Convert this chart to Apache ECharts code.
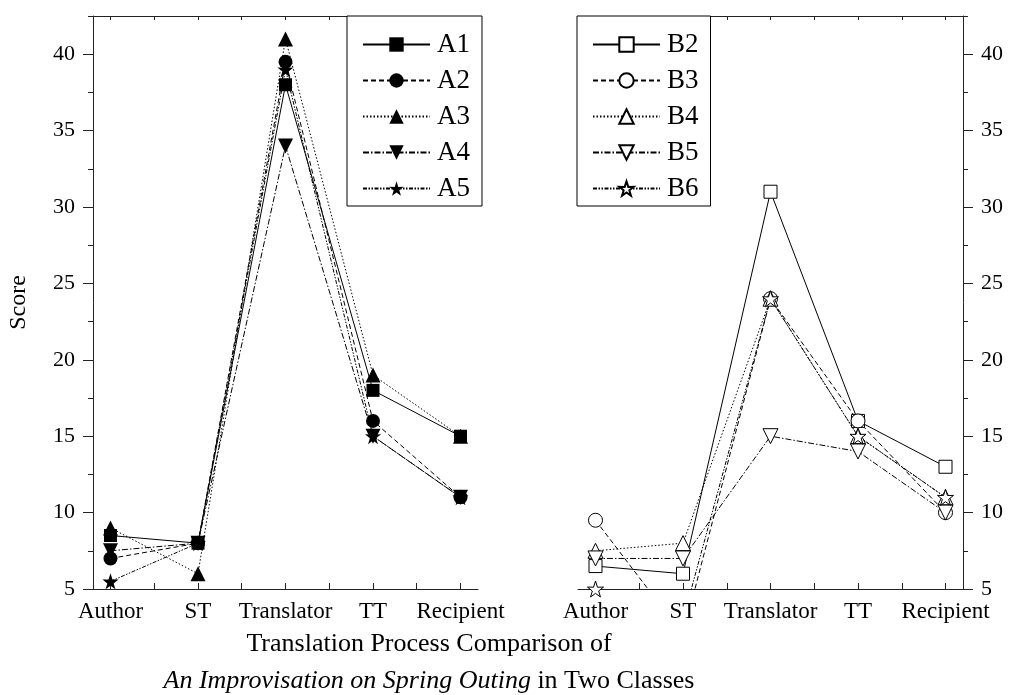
<!DOCTYPE html>
<html>
<head>
<meta charset="utf-8">
<script src="https://cdn.jsdelivr.net/npm/echarts@6/dist/echarts.min.js"></script>
<style>
html,body{margin:0;padding:0;background:#fff;}
#chart{width:1009px;height:695px;}
</style>
</head>
<body>
<div id="chart"></div>
<script>
var categories = ['Author', 'ST', 'Translator', 'TT', 'Recipient'];
var yTickLabels = [5, 10, 15, 20, 25, 30, 35, 40];
var A1 = [8.5, 8, 38, 18, 15];
var A2 = [7, 8, 39.5, 16, 11];
var A3 = [9, 6, 41, 19, 15];
var A4 = [7.5, 8, 34, 15, 11];
var A5 = [5.5, 8, 39, 15, 11];
var B2 = [6.5, 6, 31, 16, 13];
var B3 = [9.5, 2, 24, 16, 10];
var B4 = [7.5, 8, 24, 15, 11];
var B5 = [7, 7, 15, 14, 10];
var B6 = [5, 3, 24, 15, 11];

var FONT = 'Liberation Serif';
var AX = '#222';
var catPos = categories.map(function (c, i) { return i + 1; });
var tickPos = [];
for (var t = 1; t <= 5; t += 0.5) tickPos.push(t);

var STAR = 'path://M50,0L61.8,35.1L97.6,34.5L68.8,56.7L79.4,90.5L50,70L20.6,90.5L31.2,56.7L2.4,34.5L38.2,35.1Z';
var DOWN = 'path://M0,0L2,0L1,1.732Z';

function pts(arr) { return arr.map(function (v, i) { return [catPos[i], v]; }); }

function xAxes(grid) {
  return [{
    type: 'value', gridIndex: grid, position: 'bottom', min: 0.8, max: 5.2,
    splitLine: { show: false },
    axisLine: { show: true, lineStyle: { color: AX, width: 1 } },
    axisTick: { show: true, inside: true, length: 6, customValues: tickPos, lineStyle: { color: AX } },
    axisLabel: { customValues: catPos, margin: 11, color: '#000', fontFamily: FONT, fontSize: 23,
      formatter: function (v) { return categories[Math.round(v) - 1] || ''; } }
  }, {
    type: 'value', gridIndex: grid, position: 'top', min: 0.8, max: 5.2,
    splitLine: { show: false },
    axisLine: { show: true, lineStyle: { color: AX, width: 1 } },
    axisTick: { show: true, inside: true, length: 4, customValues: tickPos, lineStyle: { color: AX } },
    axisLabel: { show: false }
  }];
}
function yAxes(grid, pos, withName) {
  var a = {
    type: 'value', gridIndex: grid, position: pos, min: 5, max: 42.5, interval: 2.5,
    splitLine: { show: false },
    axisLine: { show: true, lineStyle: { color: AX, width: 1 } },
    axisTick: { show: true, inside: false, length: 5, lineStyle: { color: AX } },
    axisLabel: { customValues: yTickLabels, margin: 18, color: '#000', fontFamily: FONT, fontSize: 22 }
  };
  if (withName) {
    a.name = 'Score'; a.nameLocation = 'middle'; a.nameGap = 62;
    a.nameTextStyle = { color: '#000', fontFamily: FONT, fontSize: 24 };
  }
  var b = {
    type: 'value', gridIndex: grid, position: pos, min: 5, max: 42.5,
    splitLine: { show: false },
    axisLine: { show: false },
    axisTick: { show: true, inside: false, length: 10, customValues: yTickLabels, lineStyle: { color: AX } },
    axisLabel: { show: false }
  };
  return [a, b];
}

function ser(name, data, grid, symbol, size, dash, hollow) {
  return {
    name: name, type: 'line', xAxisIndex: grid * 2, yAxisIndex: grid * 2,
    data: pts(data), symbol: symbol, symbolSize: size, showAllSymbol: true,
    clip: true, animation: false,
    lineStyle: { color: '#000', width: 1, type: dash },
    itemStyle: hollow ? { color: '#fff', borderColor: '#000', borderWidth: 1 } : { color: '#000', borderColor: '#000', borderWidth: 0 },
    emphasis: { disabled: true }
  };
}

var dSolid = 'solid', dDash = [5, 3], dDot = [1.5, 2], dDashDot = [6, 2, 1.5, 2], dDashDotDot = [4, 1.5, 1.5, 1.5, 1.5, 1.5];

var series = [
  ser('A1', A1, 0, 'rect', 13, dSolid, false),
  ser('A2', A2, 0, 'circle', 14, dDash, false),
  ser('A3', A3, 0, 'triangle', 15, dDot, false),
  ser('A4', A4, 0, DOWN, 15, dDashDot, false),
  ser('A5', A5, 0, STAR, 16, dDashDotDot, false),
  ser('B2', B2, 1, 'rect', 13, dSolid, true),
  ser('B3', B3, 1, 'circle', 14, dDash, true),
  ser('B4', B4, 1, 'triangle', 15, dDot, true),
  ser('B5', B5, 1, DOWN, 15, dDashDot, true),
  ser('B6', B6, 1, STAR, 16, dDashDotDot, true)
];

var legendCommon = {
  orient: 'vertical', top: 16, itemWidth: 67, itemHeight: 18, itemGap: 9,
  padding: [15, 12, 4, 15], borderColor: '#000', borderWidth: 1, backgroundColor: '#fff',
  textStyle: { color: '#000', fontFamily: FONT, fontSize: 27, padding: [0, 0, 0, 2] },
  selectedMode: false
};

var option = {
  animation: false,
  backgroundColor: '#fff',
  textStyle: { fontFamily: FONT, color: '#000' },
  grid: [
    { left: 93, top: 16, width: 385, height: 573 },
    { left: 578, top: 16, width: 385, height: 573 }
  ],
  xAxis: xAxes(0).concat(xAxes(1)),
  yAxis: yAxes(0, 'left', true).concat(yAxes(1, 'right', false)),
  legend: [
    Object.assign({}, legendCommon, { left: 347, data: ['A1', 'A2', 'A3', 'A4', 'A5'] }),
    Object.assign({}, legendCommon, { left: 577, data: ['B2', 'B3', 'B4', 'B5', 'B6'] })
  ],
  title: {
    left: 424, top: 621, textAlign: 'center',
    text: 'Translation Process Comparison of\n{i|An Improvisation on Spring Outing} in Two Classes',
    textStyle: { color: '#000', fontFamily: FONT, fontSize: 26, fontWeight: 'normal', lineHeight: 37,
      rich: { i: { fontStyle: 'italic', fontFamily: FONT, fontSize: 26, color: '#000', lineHeight: 37 } } }
  },
  series: series
};
var chart = echarts.init(document.getElementById('chart'), null, { renderer: 'canvas' });
chart.setOption(option);
</script>
</body>
</html>
